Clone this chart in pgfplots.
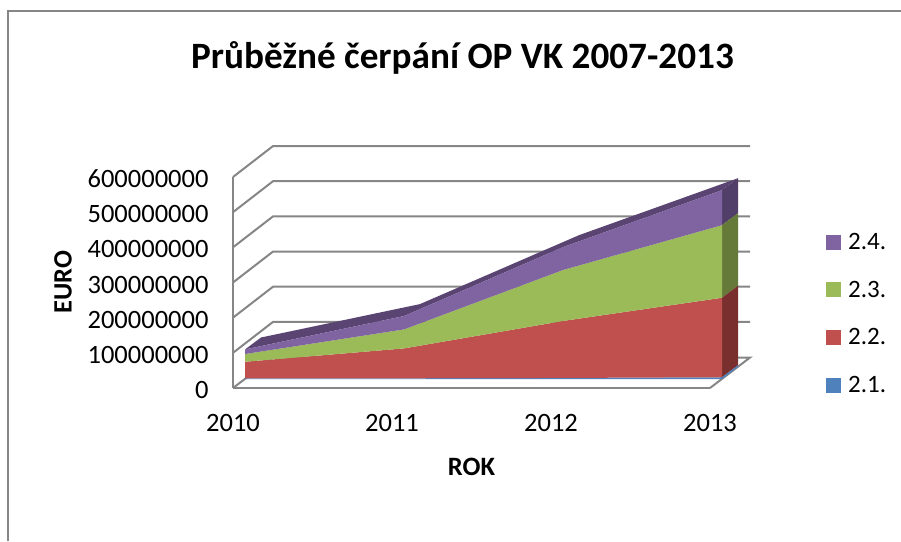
\documentclass[border=0pt]{standalone}
\usepackage{fontspec}
\setmainfont{Carlito}
\usepackage{pgfplots}
\usepackage{pgfplotstable}
\pgfplotsset{compat=1.18}
\definecolor{gridc}{RGB}{134,134,134}
\definecolor{sblue}{RGB}{79,129,189}
\definecolor{sred}{RGB}{192,80,77}
\definecolor{sgreen}{RGB}{155,187,89}
\definecolor{spurple}{RGB}{128,100,162}
\definecolor{dred}{RGB}{120,47,45}
\definecolor{dgreen}{RGB}{101,121,56}
\definecolor{dpurple}{RGB}{82,63,105}
\definecolor{tpurple}{RGB}{90,68,114}

% increments per series, in euro
\pgfplotstableread{
rok  a        b         c         d
2010 1500000  47500000  22000000  13000000
2011 2000000  85000000  54000000  38000000
2012 3000000  162000000 145000000 65000000
2013 5000000  226000000 206500000 99500000
}\cerpani

\begin{document}
\begin{tikzpicture}[x=1pt,y=1pt]
\path[use as bounding box] (0,0) rectangle (901,541);
\draw[gridc,line width=2pt] (8,0) -- (8,529.5) -- (901,529.5);
\begin{axis}[
  at={(233pt,153pt)},anchor=origin,
  width=477pt,height=211pt,scale only axis,
  xmin=2010,xmax=2013,ymin=0,ymax=600000000,
  clip=false,stack plots=y,reverse stacked plots=false,
  xtick={2010,2011,2012,2013},
  ytick={0,100000000,200000000,300000000,400000000,500000000,600000000},
  axis x line*=bottom,axis y line*=left,
  axis line style={gridc,line width=2pt,-},
  major tick length=0pt,
  scaled y ticks=false,
  /pgf/number format/assume math mode=true,
  /pgf/number format/fixed,
  /pgf/number format/1000 sep={},
  tick label style={font=\fontsize{26.5}{30}\selectfont,text=black},
  yticklabel style={xshift=-21pt,yshift=-2pt},
  xticklabel style={yshift=-23pt},
  xlabel={\textbf{ROK}},
  ylabel={\textbf{EURO}},
  label style={font=\fontsize{26.5}{30}\selectfont},
  xlabel style={yshift=-19pt},
  ylabel style={yshift=9pt},
  title={\textbf{Průběžné čerpání OP VK 2007-2013}},
  title style={font=\fontsize{37.2}{42}\selectfont,xshift=-9pt,yshift=93pt},
  legend cell align=left,
  legend style={at={(590pt,159pt)},anchor=north west,draw=none,fill=none,
    font=\fontsize{25}{28}\selectfont,row sep=26pt},
  legend image code/.code={\path[draw=none,fill=none] (0pt,0pt) -- (20pt,0pt);\fill[#1,draw=none] (0pt,-7.5pt) rectangle (15pt,7.5pt);},
  grid wall/.style={stack plots=false,forget plot,gridc,line width=2pt},
  shifted/.style={forget plot,draw=none,xshift=12pt,yshift=9pt},
]
\addlegendimage{spurple}\addlegendentry{2.4.}
\addlegendimage{sgreen}\addlegendentry{2.3.}
\addlegendimage{sred}\addlegendentry{2.2.}
\addlegendimage{sblue}\addlegendentry{2.1.}

% back wall and floor, drawn as plots so the areas stay above them
\addplot[grid wall] coordinates {(2010,100e6)(2010.2516,188e6)(2013.2516,188e6)};
\addplot[grid wall] coordinates {(2010,200e6)(2010.2516,288e6)(2013.2516,288e6)};
\addplot[grid wall] coordinates {(2010,300e6)(2010.2516,388e6)(2013.2516,388e6)};
\addplot[grid wall] coordinates {(2010,400e6)(2010.2516,488e6)(2013.2516,488e6)};
\addplot[grid wall] coordinates {(2010,500e6)(2010.2516,588e6)(2013.2516,588e6)};
\addplot[grid wall] coordinates {(2010,600e6)(2010.2516,688e6)(2013.2516,688e6)};
\addplot[grid wall] coordinates {(2010,0)(2010.2516,86.6e6)(2013.2516,86.6e6)(2013,0)};

% top and right faces, depth is 16 px and 12 px
\addplot[stack plots=false,shifted,fill=tpurple] coordinates
  {(2010,84e6)(2011,179e6)(2012,375e6)(2013,537e6)(2013.1006,571e6)(2012.1006,409e6)(2011.1006,213e6)(2010.1006,118e6)} --cycle;
\addplot[stack plots=false,shifted,fill=dpurple] coordinates
  {(2013,437.5e6)(2013,537e6)(2013.1006,571e6)(2013.1006,471.6e6)} --cycle;
\addplot[stack plots=false,shifted,fill=dgreen] coordinates
  {(2013,231e6)(2013,437.5e6)(2013.1006,471.6e6)(2013.1006,265e6)} --cycle;
\addplot[stack plots=false,shifted,fill=dred] coordinates
  {(2013,5e6)(2013,231e6)(2013.1006,265e6)(2013.1006,39e6)} --cycle;
\addplot[stack plots=false,shifted,fill=sblue] coordinates
  {(2013,0)(2013,5e6)(2013.1006,39e6)(2013.1006,34e6)} --cycle;

% front faces
\addplot[shifted,fill=sblue] table[x=rok,y=a]{\cerpani} \closedcycle;
\addplot[shifted,fill=sred] table[x=rok,y=b]{\cerpani} \closedcycle;
\addplot[shifted,fill=sgreen] table[x=rok,y=c]{\cerpani} \closedcycle;
\addplot[shifted,fill=spurple] table[x=rok,y=d]{\cerpani} \closedcycle;
\end{axis}
\end{tikzpicture}
\end{document}
